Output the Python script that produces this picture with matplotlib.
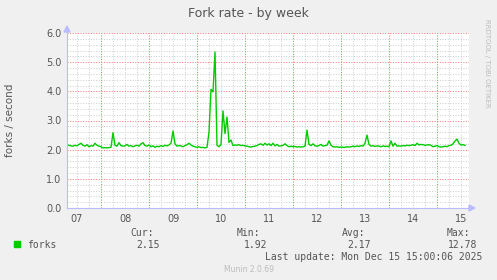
import matplotlib
matplotlib.use("Agg")
import matplotlib.pyplot as plt
import numpy as np

# hourly fork rate, starting Dec 7 07:00 (days counted from Dec 7 00:00)
start_day = 7 / 24
forks = [
    2.16, 2.15, 2.13, 2.12, 2.15, 2.13, 2.18, 2.22, 2.15, 2.12,
    2.17, 2.10, 2.14, 2.12, 2.22, 2.15, 2.12, 2.10, 2.06, 2.07,
    2.06, 2.07, 2.08, 2.58, 2.15, 2.12, 2.24, 2.14, 2.12, 2.13,
    2.18, 2.12, 2.14, 2.10, 2.13, 2.15, 2.12, 2.20, 2.24, 2.14,
    2.12, 2.16, 2.10, 2.13, 2.08, 2.12, 2.10, 2.14, 2.11, 2.15,
    2.13, 2.16, 2.22, 2.64, 2.20, 2.12, 2.14, 2.13, 2.10, 2.14,
    2.17, 2.22, 2.16, 2.12, 2.10, 2.08, 2.10, 2.07, 2.08, 2.06,
    2.08, 2.60, 4.07, 3.98, 5.35, 2.15, 2.10, 2.18, 3.33, 2.55,
    3.12, 2.25, 2.33, 2.14, 2.16, 2.15, 2.17, 2.14, 2.15, 2.13,
    2.12, 2.10, 2.09, 2.11, 2.12, 2.14, 2.18, 2.20, 2.15, 2.22,
    2.16, 2.20, 2.14, 2.22, 2.13, 2.18, 2.12, 2.13, 2.15, 2.20,
    2.14, 2.10, 2.12, 2.10, 2.11, 2.09, 2.10, 2.09, 2.10, 2.12,
    2.67, 2.18, 2.14, 2.20, 2.13, 2.12, 2.14, 2.18, 2.12, 2.14,
    2.15, 2.30, 2.15, 2.10, 2.09, 2.10, 2.08, 2.09, 2.08, 2.08,
    2.10, 2.09, 2.10, 2.12, 2.10, 2.13, 2.11, 2.14, 2.12, 2.22,
    2.50, 2.18, 2.12, 2.14, 2.11, 2.13, 2.12, 2.10, 2.13, 2.11,
    2.12, 2.10, 2.30, 2.12, 2.22, 2.12, 2.13, 2.12, 2.14, 2.13,
    2.15, 2.14, 2.15, 2.17, 2.14, 2.22, 2.16, 2.18, 2.17, 2.15,
    2.16, 2.17, 2.15, 2.10, 2.12, 2.14, 2.10, 2.09, 2.10, 2.12,
    2.10, 2.14, 2.15, 2.20, 2.30, 2.36, 2.22, 2.16, 2.17, 2.15,
]
day_labels = ["07", "08", "09", "10", "11", "12", "13", "14", "15"]
y_ticks = [0.0, 1.0, 2.0, 3.0, 4.0, 5.0, 6.0]
stats = [("Cur:", "2.15"), ("Min:", "1.92"), ("Avg:", "2.17"), ("Max:", "12.78")]

BG = "#F0F0F0"
TXT = "#555555"
W, H = 497, 280

fig = plt.figure(figsize=(W / 100, H / 100), dpi=100, facecolor=BG)
ax = fig.add_axes([67 / W, (H - 208) / H, (469 - 67) / W, (208 - 33) / H])
ax.set_facecolor("white")

t = start_day + np.arange(len(forks)) / 24
ax.set_xlim(start_day, start_day + 402 / 48)
ax.set_ylim(0, 6)

# grid, rrdtool style: 1px dots
dots = (0, (1, 1.5))
for d in np.arange(0.25, 9, 0.25):
    if abs(d - round(d)) > 1e-6:
        ax.axvline(d, color="#d2d2d2", lw=0.75, ls=dots, zorder=1)
for v in np.arange(0.2, 6.01, 0.2):
    if abs(v - round(v)) > 1e-6:
        ax.axhline(v, color="#d2d2d2", lw=0.75, ls=dots, zorder=1)
for d in range(1, 9):
    ax.axvline(d, color="#ff6f6f", lw=0.75, ls=dots, zorder=2)
for v in y_ticks[1:]:
    ax.axhline(v, color="#ff7c7c", lw=0.75, ls=dots, zorder=2)

ax.plot(t, forks, color="#00CC00", lw=1.0, zorder=3)

for s in ax.spines.values():
    s.set_visible(False)
ax.set_xticks([i + 0.5 for i in range(len(day_labels))])
ax.set_xticklabels(day_labels)
ax.set_yticks(y_ticks)
ax.set_yticklabels([f"{v:.1f}" for v in y_ticks])
ax.tick_params(length=0, labelsize=7, colors=TXT, pad=4)

# axis lines with arrows
fig.add_artist(plt.Line2D([67 / W, 470 / W], [(H - 208) / H] * 2, color="#bbbbff", lw=0.8))
fig.add_artist(plt.Line2D([67 / W] * 2, [(H - 208) / H, (H - 31) / H], color="#bbbbff", lw=0.8))
fig.patches.append(plt.Polygon([[469 / W, (H - 205) / H], [475 / W, (H - 208) / H], [469 / W, (H - 211) / H]],
                               closed=True, color="#bbbbff", transform=fig.transFigure, figure=fig))
fig.patches.append(plt.Polygon([[64 / W, (H - 32) / H], [67 / W, (H - 26) / H], [70 / W, (H - 32) / H]],
                               closed=True, color="#bbbbff", transform=fig.transFigure, figure=fig))

fig.text(248 / W, 1 - 13 / H, "Fork rate - by week", ha="center", va="center",
         fontsize=9, color=TXT)
fig.text(10 / W, 1 - 120 / H, "forks / second", rotation=90, ha="center", va="center",
         fontsize=7.5, color=TXT)
fig.text(487 / W, 1 - 63 / H, "RRDTOOL / TOBI OETIKER", rotation=270, ha="center", va="center",
         fontsize=5, color="#bbbbbb")

# legend
mono = "DejaVu Sans Mono"
fig.patches.append(plt.Rectangle((14 / W, 1 - 247 / H), 6 / W, 6 / H, color="#00CC00",
                                 transform=fig.transFigure, figure=fig))
fig.text(27 / W, 1 - 244.5 / H, "forks", family=mono, fontsize=7, color=TXT, va="center")
label_right = [154, 260, 365, 470]
value_right = [160, 267, 371, 477]
for (lab, val), lx, vx in zip(stats, label_right, value_right):
    fig.text(lx / W, 1 - 232.5 / H, lab, family=mono, fontsize=7, color=TXT, ha="right", va="center")
    fig.text(vx / W, 1 - 244.5 / H, val, family=mono, fontsize=7, color=TXT, ha="right", va="center")
fig.text(482 / W, 1 - 256.5 / H, "Last update: Mon Dec 15 15:00:06 2025", family=mono,
         fontsize=7, color=TXT, ha="right", va="center")
fig.text(249 / W, 1 - 269.5 / H, "Munin 2.0.69", fontsize=5.5, color="#bbbbbb",
         ha="center", va="center")

fig.savefig("out.png", dpi=100, facecolor=BG)
